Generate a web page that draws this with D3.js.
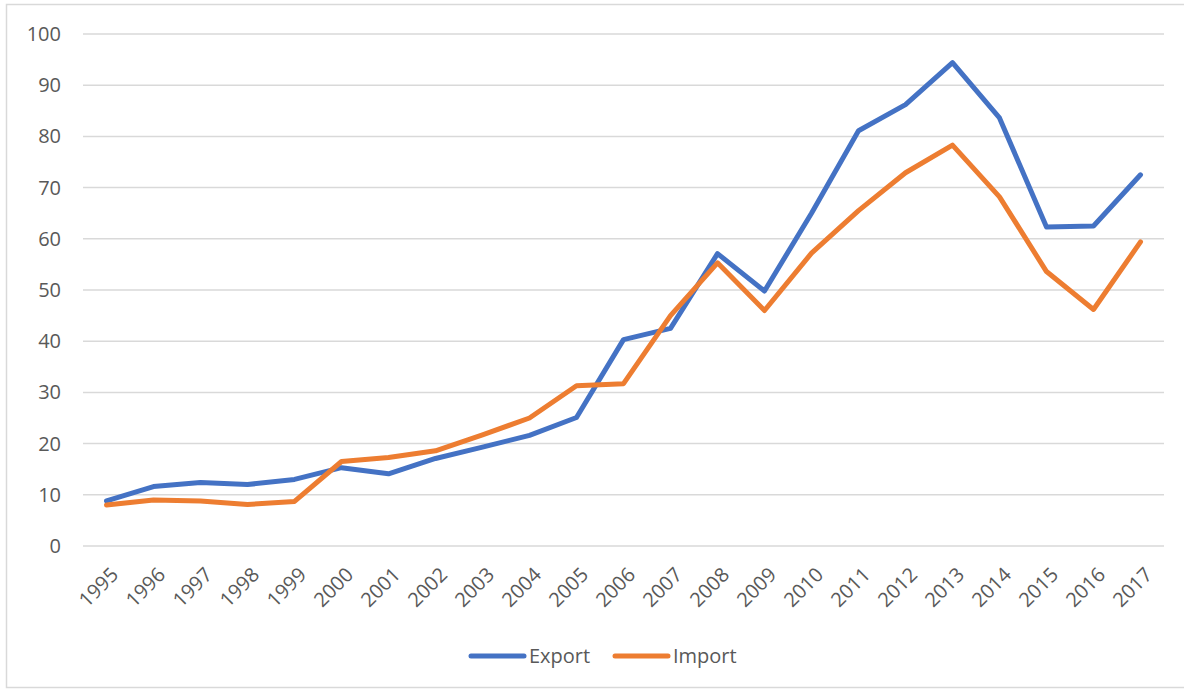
<!DOCTYPE html>
<html>
<head>
<meta charset="utf-8">
<script src="https://cdn.jsdelivr.net/npm/d3@7"></script>
<style>
  body { margin: 0; background: #fff; }
  text { font-family: "Open Sans", "Liberation Sans", sans-serif; fill: #595959; }
</style>
</head>
<body>
<div id="chart"></div>
<script>
// chart data
const years = ["1995","1996","1997","1998","1999","2000","2001","2002","2003","2004","2005","2006",
               "2007","2008","2009","2010","2011","2012","2013","2014","2015","2016","2017"];
const exportValues = [8.8, 11.6, 12.4, 12.0, 13.0, 15.3, 14.1, 17.1, 19.3, 21.6, 25.1, 40.3,
                      42.5, 57.1, 49.8, 65.0, 81.1, 86.2, 94.4, 83.6, 62.3, 62.5, 72.5];
const importValues = [8.0, 9.0, 8.8, 8.1, 8.7, 16.5, 17.3, 18.6, 21.7, 25.0, 31.3, 31.7,
                      45.0, 55.3, 46.0, 57.2, 65.5, 72.9, 78.3, 68.2, 53.6, 46.2, 59.4];
const yTicks = [0, 10, 20, 30, 40, 50, 60, 70, 80, 90, 100];
const seriesNames = ["Export", "Import"];
const seriesColors = ["#4472C4", "#ED7D31"];

const width = 1184, height = 690;
const margin = { top: 34, right: 20, bottom: 144, left: 83 };

const svg = d3.select("#chart").append("svg")
    .attr("width", width)
    .attr("height", height);

// outer chart border
svg.append("rect")
    .attr("x", 6.5).attr("y", 4.5)
    .attr("width", 1200).attr("height", 683)
    .attr("fill", "none")
    .attr("stroke", "#d9d9d9")
    .attr("stroke-width", 1.5);

const x = d3.scaleBand()
    .domain(years)
    .range([margin.left, width - margin.right]);

const y = d3.scaleLinear()
    .domain([0, 100])
    .range([height - margin.bottom, margin.top]);

// gridlines
svg.append("g")
    .selectAll("line")
    .data(yTicks)
    .join("line")
    .attr("x1", margin.left)
    .attr("x2", width - margin.right)
    .attr("y1", d => y(d))
    .attr("y2", d => y(d))
    .attr("stroke", "#d9d9d9")
    .attr("stroke-width", 1.5);

// y axis labels
const yAxis = d3.axisLeft(y).tickValues(yTicks).tickSize(0).tickPadding(0);
const yAxisGroup = svg.append("g")
    .attr("transform", `translate(61, 0)`)
    .call(yAxis);
yAxisGroup.select(".domain").remove();
yAxisGroup.selectAll("text")
    .style("font-size", "20px")
    .style("font-family", null)
    .attr("fill", "#595959");

// x axis labels, rotated
const xAxis = d3.axisBottom(x).tickSize(0).tickPadding(0);
const xAxisGroup = svg.append("g")
    .attr("transform", `translate(0, ${height - margin.bottom})`)
    .call(xAxis);
xAxisGroup.select(".domain").remove();
xAxisGroup.selectAll("text")
    .style("font-size", "20px")
    .style("font-family", null)
    .attr("fill", "#595959")
    .attr("text-anchor", "end")
    .attr("dy", 0)
    .attr("y", 0)
    .attr("transform", "translate(13, 30) rotate(-45)");

// lines
const line = d3.line()
    .x((d, i) => x(years[i]) + x.bandwidth() / 2)
    .y(d => y(d));

[exportValues, importValues].forEach((vals, i) => {
    svg.append("path")
        .datum(vals)
        .attr("fill", "none")
        .attr("stroke", seriesColors[i])
        .attr("stroke-width", 5)
        .attr("stroke-linejoin", "round")
        .attr("stroke-linecap", "round")
        .attr("d", line);
});

// legend
const legend = svg.append("g").attr("transform", "translate(471, 656)");
seriesNames.forEach((name, i) => {
    const g = legend.append("g").attr("transform", `translate(${i * 144}, 0)`);
    g.append("line")
        .attr("x1", 0).attr("x2", 53)
        .attr("stroke", seriesColors[i])
        .attr("stroke-width", 5)
        .attr("stroke-linecap", "round");
    g.append("text")
        .attr("x", 58)
        .attr("dy", "0.35em")
        .style("font-size", "20px")
        .text(name);
});
</script>
</body>
</html>
